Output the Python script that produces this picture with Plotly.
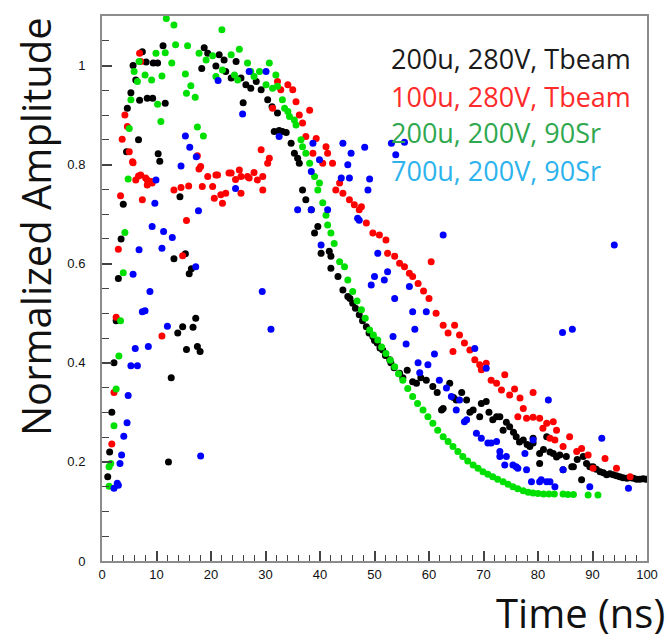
import plotly.graph_objects as go

# ---------------- data ----------------
black_x = [1.05, 1.4, 1.8, 2.2, 2.6, 3.0, 3.5, 3.9, 4.5, 4.65, 5.3, 5.7, 6.2, 6.7, 6.9, 7.4, 8.1, 8.3, 9.3, 9.4,
           10.2, 10.3, 10.6, 11.2, 11.6, 12.2, 12.7, 13.2, 13.9, 14.3, 14.8, 15.3, 15.5, 16.0, 16.4, 16.7, 17.2, 17.5, 18.0,
           18.3, 18.75, 19.4, 20.9, 21.5, 22.4, 22.7, 23.7, 24.6, 25.5, 25.9, 26.4, 27.3, 28.3, 29.2, 30.4, 31.2, 31.6,
           32.2, 32.5, 33.1, 33.8, 34.7, 35.3, 35.9, 36.2, 36.8, 37.4, 38.4, 39.0, 39.6, 40.2, 41.7, 42.0, 42.0, 43.3,
           44.2, 45.1, 45.5, 46.0, 46.5, 47.2, 47.8, 48.5, 49.0, 49.7, 50.0, 50.5, 51.0, 51.5, 52.0, 52.8, 53.0, 53.6,
           54.6, 55.2, 56.0, 57.0, 57.7, 58.5, 59.5, 60.7, 61.5, 62.3, 62.6, 63.8, 64.5, 65.0, 66.0, 66.9, 67.5, 68.1,
           69.3, 69.6, 70.5, 71.0, 71.7, 72.4, 73.0, 73.6, 74.2, 74.8, 75.5, 76.0, 76.6, 77.3, 78.0, 78.5, 79.1, 79.1,
           80.3, 80.3, 81.0, 81.6, 82.2, 82.8, 83.4, 84.0, 84.6, 85.2, 86.2, 86.5, 87.2, 88.0, 88.3, 88.9, 89.5, 90.1,
           90.7, 91.4, 92.0, 92.6, 93.2, 93.8, 94.4, 95.0, 95.6, 96.3, 96.9, 97.5, 98.1, 98.7, 99.3, 99.8]
black_y = [0.17, 0.22, 0.30, 0.40, 0.485, 0.57, 0.65, 0.72, 0.826, 0.914, 0.945, 1.0, 0.971, 0.85, 0.93, 1.028, 1.007, 0.934, 0.934, 1.005,
           1.005, 0.822, 0.807, 1.04, 0.924, 0.20, 0.37, 0.61, 0.46, 0.735, 0.473, 0.62, 0.427, 0.58, 0.59, 0.472, 0.49, 0.433, 0.423,
           0.994, 1.036, 1.025, 0.999, 1.022, 1.011, 0.988, 0.975, 1.008, 0.975, 0.925, 0.961, 0.954, 0.968, 0.951, 0.931, 0.917, 0.867,
           0.904, 0.869, 0.867, 0.865, 0.843, 0.823, 0.813, 0.803, 0.749, 0.729, 0.709, 0.662, 0.675, 0.621, 0.625, 0.615, 0.591, 0.574,
           0.547, 0.534, 0.53, 0.52, 0.51, 0.497, 0.485, 0.473, 0.46, 0.453, 0.445, 0.44, 0.43, 0.426, 0.415, 0.406, 0.40, 0.39,
           0.379, 0.37, 0.385, 0.362, 0.359, 0.37, 0.365, 0.352, 0.34, 0.305, 0.308, 0.359, 0.33, 0.325, 0.34, 0.325, 0.30, 0.305,
           0.291, 0.318, 0.322, 0.30, 0.285, 0.291, 0.291, 0.264, 0.28, 0.271, 0.26, 0.251, 0.24, 0.244, 0.235, 0.231, 0.238, 0.248,
           0.217, 0.197, 0.225, 0.251, 0.22, 0.217, 0.21, 0.214, 0.184, 0.211, 0.19, 0.19, 0.205, 0.164, 0.211, 0.197, 0.19, 0.19,
           0.185, 0.18, 0.178, 0.174, 0.176, 0.174, 0.172, 0.17, 0.168, 0.167, 0.168, 0.167, 0.165, 0.165, 0.166, 0.165]

red_x = [1.8, 2.2, 2.6, 3.0, 3.4, 3.7, 4.2, 4.65, 5.0, 5.6, 5.7, 6.2, 6.7, 6.9, 7.1, 7.1, 7.4, 8.0, 8.3, 8.3, 9.0, 9.2,
         11.0, 13.2, 14.5, 14.8, 15.5, 15.9, 17.5, 17.8, 18.1, 18.4, 19.4, 20.3, 20.6, 20.9, 21.2, 21.8, 22.1, 22.7, 23.3,
         23.7, 24.5, 25.2, 25.5, 25.5, 26.7, 27.0, 27.9, 28.5, 29.2, 29.5, 29.5, 30.4, 30.7, 31.3, 32.2, 32.8, 34.1, 35.0,
         35.6, 36.2, 36.8, 37.4, 38.1, 38.7, 39.3, 40.5, 41.1, 41.4, 42.3, 42.9, 43.6, 44.2, 45.4, 46.3, 47.2, 47.6, 48.5,
         49.7, 50.9, 52.1, 52.4, 53.7, 54.6, 55.5, 56.4, 57.0, 58.0, 59.0, 60.0, 60.4, 61.3, 62.6, 63.5, 64.4, 64.7, 65.6,
         66.5, 67.5, 68.4, 69.3, 69.6, 70.5, 71.4, 72.4, 73.3, 73.9, 74.8, 75.7, 76.3, 76.7, 77.3, 77.9, 79.1, 79.1, 80.3,
         80.9, 81.6, 82.2, 82.8, 83.1, 83.4, 84.6, 85.8, 87.1, 88.0, 89.2, 90.1, 92.3, 94.4, 96.9]
red_y = [0.236, 0.34, 0.492, 0.629, 0.737, 0.851, 0.90, 0.877, 0.826, 0.806, 0.804, 0.769, 0.777, 1.025, 1.008, 0.779, 0.729, 0.773, 0.769, 0.759, 0.766, 0.763,
         0.454, 0.749, 0.754, 0.616, 0.687, 0.757, 0.818, 0.791, 0.796, 0.756, 0.776, 0.756, 0.732, 0.779, 0.779, 0.739, 0.722, 0.742, 0.783,
         0.783, 0.77, 0.789, 0.742, 0.776, 0.776, 0.773, 0.784, 0.769, 0.83, 0.776, 0.749, 0.803, 0.813, 0.914, 0.968, 0.951, 0.961, 0.951,
         0.927, 0.90, 0.884, 0.857, 0.91, 0.823, 0.853, 0.803, 0.836, 0.823, 0.803, 0.749, 0.763, 0.742, 0.729, 0.719, 0.709, 0.715, 0.682,
         0.662, 0.658, 0.648, 0.621, 0.615, 0.601, 0.594, 0.581, 0.574, 0.56, 0.545, 0.53, 0.604, 0.50, 0.476, 0.46, 0.423, 0.476, 0.456,
         0.44, 0.426, 0.406, 0.396, 0.386, 0.399, 0.365, 0.359, 0.345, 0.376, 0.335, 0.347, 0.291, 0.329, 0.308, 0.288, 0.29, 0.34, 0.288,
         0.268, 0.278, 0.248, 0.281, 0.244, 0.264, 0.231, 0.251, 0.221, 0.227, 0.214, 0.187, 0.207, 0.187, 0.17]

green_x = [1.3, 1.3, 1.6, 2.2, 2.6, 3.1, 3.4, 3.9, 4.2, 4.8, 5.0, 5.3, 5.9, 6.5, 6.8, 7.9, 9.1, 9.9, 10.2, 10.8, 11.0, 11.6,
           11.8, 12.8, 13.2, 13.5, 15.3, 15.5, 15.7, 16.3, 17.1, 17.5, 17.8, 18.6, 19.1, 20.3, 20.9, 22.0, 22.1, 23.7, 24.3,
           24.9, 25.2, 26.7, 27.3, 27.9, 28.9, 30.1, 30.7, 31.3, 31.9, 32.2, 33.1, 33.5, 34.1, 34.4, 35.3, 35.6, 36.5, 36.8,
           37.4, 38.1, 39.0, 39.6, 39.9, 40.5, 41.1, 41.4, 42.0, 42.6, 43.6, 44.5, 45.1, 46.0, 46.8, 47.6, 48.3, 49.1, 49.8,
           50.6, 51.3, 52.1, 52.9, 53.7, 54.4, 55.2, 56.1, 57.0, 57.9, 58.9, 59.8, 60.7, 61.6, 62.6, 63.5, 64.4, 65.3, 66.2,
           67.1, 68.1, 69.0, 69.9, 70.8, 71.7, 72.6, 73.6, 74.5, 75.4, 76.3, 77.3, 78.2, 79.1, 80.0, 81.0, 82.0, 83.0, 84.6,
           85.5, 86.5, 89.2, 91.0]
green_y = [0.151, 0.19, 0.197, 0.273, 0.347, 0.414, 0.485, 0.582, 0.663, 0.771, 0.873, 0.931, 0.988, 0.968, 1.008, 0.981, 0.971, 1.025, 0.922, 0.887, 0.979, 1.026,
           1.095, 1.005, 1.082, 1.042, 0.983, 0.944, 1.04, 0.959, 0.936, 0.876, 1.025, 0.858, 1.011, 1.02, 0.978, 1.072, 0.991, 1.022, 0.981,
           0.971, 1.033, 1.005, 0.988, 0.978, 0.988, 0.961, 1.005, 0.954, 0.981, 0.958, 0.931, 0.914, 0.907, 0.897, 0.89, 0.88, 0.85, 0.836,
           0.823, 0.803, 0.776, 0.749, 0.763, 0.723, 0.698, 0.678, 0.662, 0.641, 0.604, 0.594, 0.567, 0.544, 0.525, 0.507, 0.49, 0.466, 0.456,
           0.446, 0.432, 0.419, 0.405, 0.392, 0.378, 0.365, 0.348, 0.332, 0.318, 0.305, 0.291, 0.278, 0.264, 0.251, 0.241, 0.231, 0.221, 0.211,
           0.202, 0.194, 0.187, 0.18, 0.175, 0.17, 0.165, 0.16, 0.155, 0.15, 0.146, 0.142, 0.139, 0.137, 0.136, 0.135, 0.135, 0.135, 0.135,
           0.134, 0.134, 0.133, 0.133]

blue_x = [2.2, 2.8, 3.0, 3.3, 3.6, 4.0, 4.6, 4.8, 5.3, 5.7, 6.1, 6.5, 6.8, 7.4, 7.9, 8.5, 8.8, 9.2, 9.7, 9.9, 11.0, 11.3,
          12.0, 12.9, 14.5, 15.3, 16.1, 17.2, 17.3, 17.7, 18.1, 21.3, 24.5, 25.8, 27.0, 29.4, 30.1, 31.0, 32.5, 35.9, 38.4,
          38.4, 38.7, 39.9, 40.2, 41.4, 43.9, 44.2, 45.1, 45.4, 45.7, 46.9, 47.2, 48.2, 48.8, 49.1, 49.4, 50.0, 50.6, 51.8,
          52.4, 53.1, 53.4, 53.7, 53.9, 55.5, 55.8, 56.4, 57.0, 57.4, 58.0, 58.3, 59.5, 59.8, 61.0, 61.9, 62.6, 63.2, 64.1,
          65.0, 65.6, 66.5, 66.9, 68.4, 68.7, 69.6, 70.5, 70.8, 71.4, 72.4, 73.0, 73.0, 73.9, 74.2, 75.4, 76.0, 76.3, 77.6,
          77.9, 78.8, 79.1, 80.3, 80.6, 81.6, 81.9, 82.2, 83.1, 84.5, 84.6, 86.3, 89.5, 91.7, 94.0, 96.6]
blue_y = [0.147, 0.157, 0.153, 0.197, 0.214, 0.252, 0.279, 0.334, 0.394, 0.579, 0.429, 0.394, 0.628, 0.503, 0.505, 0.433, 0.544, 0.675, 0.722, 0.769, 0.631, 0.665,
          0.474, 0.653, 0.797, 0.858, 0.835, 0.594, 0.816, 0.707, 0.212, 0.97, 0.752, 0.902, 0.988, 0.544, 0.988, 0.468, 0.857, 0.709, 0.709,
          0.786, 0.843, 0.81, 0.638, 0.709, 0.773, 0.843, 0.80, 0.773, 0.823, 0.692, 0.688, 0.835, 0.749, 0.771, 0.557, 0.574, 0.621, 0.567,
          0.584, 0.843, 0.453, 0.53, 0.82, 0.845, 0.438, 0.554, 0.503, 0.468, 0.40, 0.38, 0.503, 0.396, 0.418, 0.365, 0.658, 0.349, 0.332,
          0.305, 0.325, 0.281, 0.285, 0.429, 0.258, 0.248, 0.389, 0.238, 0.238, 0.241, 0.211, 0.221, 0.194, 0.211, 0.194, 0.19, 0.187, 0.217,
          0.184, 0.16, 0.244, 0.16, 0.164, 0.16, 0.325, 0.16, 0.15, 0.461, 0.184, 0.468, 0.15, 0.248, 0.638, 0.147]

series_names = ["200u, 280V, Tbeam", "100u, 280V, Tbeam", "200u, 200V, 90Sr", "700u, 200V, 90Sr"]
marker_colors = ["#000000", "#ff0000", "#00e000", "#0000ff"]
label_colors = ["#1a1a1a", "#ff2a2a", "#2fa84f", "#2db3ec"]

x_ticks = list(range(0, 101, 10))
y_ticks = [0, 0.2, 0.4, 0.6, 0.8, 1.0]
y_ticktext = ["0", "0.2", "0.4", "0.6", "0.8", "1"]

# ---------------- figure ----------------
W, H = 669, 641
L, R, T, B = 102, 22, 16, 80
PW, PH = W - L - R, H - T - B


def px_to_paper(px, py):
    return (px - L) / PW, (H - B - py) / PH


fig = go.Figure()
for xs, ys, c, n in zip([black_x, red_x, green_x, blue_x], [black_y, red_y, green_y, blue_y], marker_colors, series_names):
    fig.add_trace(go.Scatter(x=xs, y=ys, mode="markers", name=n, showlegend=False,
                             marker=dict(color=c, size=7, line=dict(width=0))))

axis_common = dict(showgrid=False, zeroline=False, showline=True, linecolor="#8c8c8c", linewidth=2,
                   mirror=True, ticks="inside", tickcolor="#444", tickwidth=1.5,
                   tickfont=dict(family="Liberation Sans, Arial, sans-serif", size=13, color="#111"))

fig.update_xaxes(range=[0, 100], tickvals=x_ticks, ticklen=10,
                 minor=dict(dtick=2, ticks="inside", ticklen=6, tickcolor="#444", tickwidth=1),
                 ticklabelstandoff=0, **axis_common)
fig.update_yaxes(range=[0, 1.1], tickvals=y_ticks, ticktext=y_ticktext, ticklen=10,
                 minor=dict(dtick=0.05, ticks="inside", ticklen=7, tickcolor="#444", tickwidth=1),
                 ticklabelstandoff=12, **axis_common)

annotations = []
label_y_px = [58, 96, 133, 171]
for name, col, py in zip(series_names, label_colors, label_y_px):
    ax, ay = px_to_paper(389, py)
    annotations.append(dict(text=name, x=ax, y=ay, xref="paper", yref="paper", xanchor="left", yanchor="middle",
                            showarrow=False, font=dict(family="Open Sans, sans-serif", size=27, color=col)))

tx, ty = px_to_paper(36, 227)
annotations.append(dict(text="Normalized Amplitude", x=tx, y=ty, xref="paper", yref="paper", textangle=-90,
                        xanchor="center", yanchor="middle", showarrow=False,
                        font=dict(family="Open Sans, sans-serif", size=40, color="#111")))
tx, ty = px_to_paper(667, 612)
annotations.append(dict(text="Time (ns)", x=tx, y=ty, xref="paper", yref="paper",
                        xanchor="right", yanchor="middle", showarrow=False,
                        font=dict(family="Open Sans, sans-serif", size=40, color="#111")))

fig.update_layout(width=W, height=H, margin=dict(l=L, r=R, t=T, b=B),
                  paper_bgcolor="white", plot_bgcolor="white", annotations=annotations)

fig.write_html("out.html")
